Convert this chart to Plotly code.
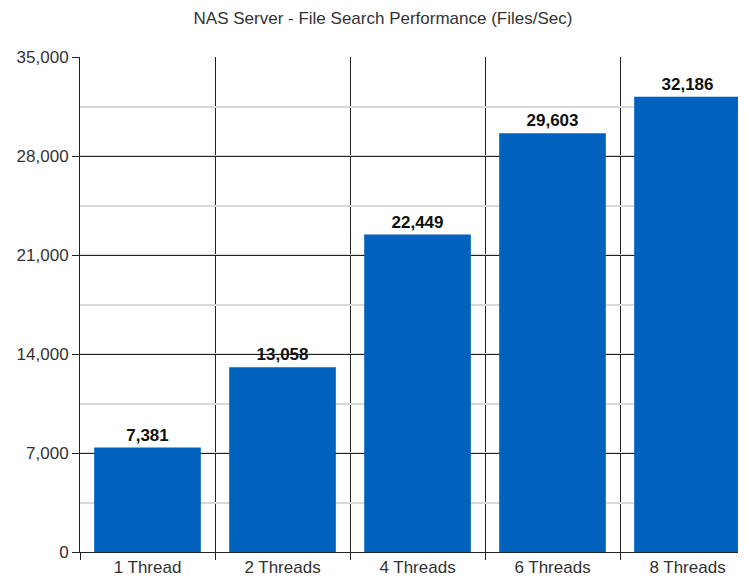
import plotly.graph_objects as go

categories = ["1 Thread", "2 Threads", "4 Threads", "6 Threads", "8 Threads"]
values = [7381, 13058, 22449, 29603, 32186]
y_ticks = [0, 7000, 14000, 21000, 28000, 35000]
y_tick_labels = ["0", "7,000", "14,000", "21,000", "28,000", "35,000"]

xpos = list(range(len(categories)))
FONT = "Liberation Sans, Arial, sans-serif"

# page body has an 8px margin, so the figure is sized 738x568
W, H = 738, 568

fig = go.Figure(go.Bar(
    x=xpos, y=values, width=0.79,
    marker=dict(color="#0062BD", line=dict(width=0)),
    text=[f"{v:,}" for v in values], textposition="outside",
    textfont=dict(family=FONT, size=17, color="#111", weight="bold"),
    cliponaxis=False,
))

fig.update_layout(
    width=W, height=H,
    margin=dict(l=72, r=0, t=49, b=24, autoexpand=False),
    paper_bgcolor="white", plot_bgcolor="white",
    title=dict(text="NAS Server - File Search Performance (Files/Sec)", x=375 / W, xanchor="center",
               y=1 - 10 / H, yanchor="middle",
               font=dict(family=FONT, size=17, color="#333")),
    showlegend=False,
)
fig.update_xaxes(
    range=[-0.5, 4.5 - 9 / 135], tickvals=xpos, ticktext=categories,
    showgrid=False, ticks="", automargin=False,
    showline=True, linecolor="#222", linewidth=1,
    tickfont=dict(family=FONT, size=17, color="#333"),
    minor=dict(tickvals=[-0.5, 0.5, 1.5, 2.5, 3.5], showgrid=True, gridcolor="#222", gridwidth=1,
               ticks="outside", ticklen=7, tickcolor="#222"),
)
fig.update_yaxes(
    range=[0, 35000], tickvals=y_ticks, ticktext=y_tick_labels,
    showgrid=True, gridcolor="#222", gridwidth=1, zeroline=False,
    ticks="outside", ticklen=7, tickcolor="#222", automargin=False,
    showline=True, linecolor="#222", linewidth=1,
    tickfont=dict(family=FONT, size=17, color="#333"),
    minor=dict(dtick=3500, showgrid=True, gridcolor="#d8d8d8", gridwidth=2),
)

fig.write_html("out.html")
